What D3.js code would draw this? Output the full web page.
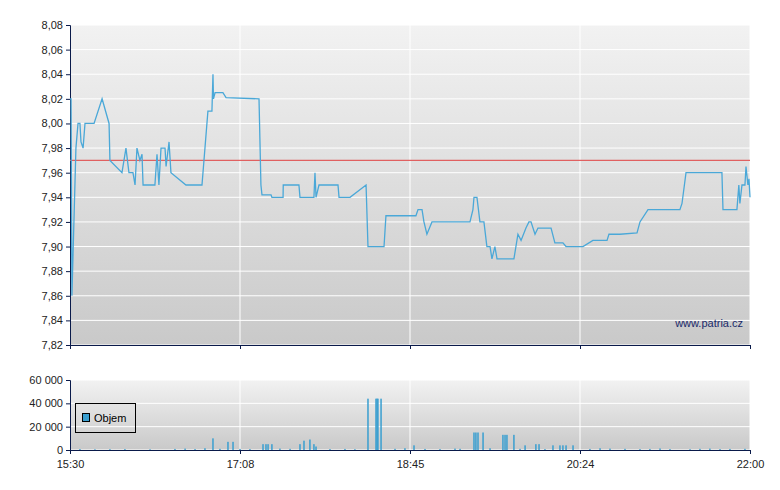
<!DOCTYPE html>
<html><head><meta charset="utf-8">
<script src="https://cdn.jsdelivr.net/npm/d3@7"></script>
<style>body{margin:0;background:#fff}svg{font-family:Arial,"Liberation Sans",sans-serif}</style>
</head><body><svg id="c" width="780" height="490"></svg>
<script>
// minutes after 15:30
const priceTimes=[0,0.6,1.1,3.4,4.6,5.7,6.3,7.5,8.6,13.8,18.4,22.4,22.9,29.8,32.1,33.8,36.1,37.3,38.4,40.1,41.3,41.9,48.7,49.9,51.0,52.2,54.5,55.1,56.8,57.9,66.5,75.7,79.1,81.4,82.0,82.3,83.2,87.7,89.5,108.4,109.5,110.1,115.3,115.8,122.2,122.3,131.3,131.9,139.9,140.5,141.1,142.8,153.7,154.3,160.6,169.8,170.9,180.1,181.2,198.4,199.6,201.9,203.0,204.7,207.6,229.4,231.1,231.7,233.4,235.1,237.4,239.1,240.9,242.0,243.7,244.9,247.2,254.6,256.9,258.7,261.5,263.2,264.4,266.7,268.4,275.9,278.1,282.7,284.5,294.2,299.9,308.0,309.1,315.4,325.2,326.9,331.5,349.8,351.0,353.3,373.9,374.5,382.5,383.6,384.2,385.4,387.1,387.7,388.8,389.4,390];
const priceValues=[8.02,8.02,7.86,7.98,8.00,8.00,7.985,7.98,8.00,8.00,8.02,8.00,7.97,7.96,7.98,7.96,7.96,7.95,7.98,7.97,7.975,7.95,7.95,7.975,7.95,7.98,7.98,7.965,7.985,7.96,7.95,7.95,8.01,8.01,8.04,8.02,8.025,8.025,8.021,8.02,7.95,7.942,7.942,7.94,7.94,7.95,7.95,7.94,7.94,7.96,7.94,7.95,7.95,7.94,7.94,7.95,7.90,7.90,7.925,7.925,7.93,7.93,7.92,7.91,7.92,7.92,7.93,7.94,7.94,7.92,7.92,7.90,7.90,7.89,7.90,7.89,7.89,7.89,7.91,7.905,7.915,7.92,7.92,7.91,7.915,7.915,7.903,7.903,7.90,7.90,7.905,7.905,7.91,7.91,7.911,7.92,7.93,7.93,7.935,7.96,7.96,7.93,7.93,7.95,7.935,7.95,7.95,7.965,7.95,7.955,7.94];
const refValue=7.97;
const volTimes=[82.0,90.6,93.5,110.7,112.4,113.6,115.8,131.9,134.2,137.6,139.9,141.1,170.9,175.5,176.1,176.6,178.4,197.3,231.7,232.8,234.0,236.9,248.3,249.5,250.6,254.6,261.0,267.2,269.0,277.0,281.0,282.7,284.5,288.5,
5.7,14.3,22.9,31.5,45.9,60.2,66,71.7,77.4,86,97.5,103.2,120.4,126.2,149.1,157.7,163.4,186.4,192.1,203.6,212.2,220.8,223.7,240.9,258.1,272.4,298.2,304,309.7,318.3,326.9,332.6,338.4,344.1,355.6,361.3,367,372.8,378.5,387.1];
const volValues=[10000,7000,7000,5000,5000,5000,5000,5000,8000,9000,5000,3000,44000,44000,44000,44000,44000,4000,15000,15000,15000,15000,13000,13000,13000,13000,4000,5000,5000,4000,4000,4000,4000,4000,
800,600,700,800,600,900,1200,800,1500,1000,900,800,1200,1000,800,900,700,1000,1500,900,800,1200,1000,1500,1000,800,900,1500,1200,1000,800,900,1300,800,700,1000,1200,800,900,1000];
const xTickLabels=["15:30","17:08","18:45","20:24","22:00"];
const yTicks=[7.82,7.84,7.86,7.88,7.90,7.92,7.94,7.96,7.98,8.00,8.02,8.04,8.06,8.08];
const vTicks=[0,20000,40000,60000];

const svg=d3.select("#c");
const L=70,R=750,PT=25,PB=345,VT=380,VB=450;
const x=d3.scaleLinear().domain([0,390]).range([L,R]);
const y=d3.scaleLinear().domain([7.82,8.08]).range([PB,PT]);
const yv=d3.scaleLinear().domain([0,60000]).range([VB,VT]);
const defs=svg.append("defs");
const g=defs.append("linearGradient").attr("id","bg").attr("x1",0).attr("x2",0).attr("y1",0).attr("y2",1);
g.append("stop").attr("offset","0").attr("stop-color","#f2f2f2");
g.append("stop").attr("offset","1").attr("stop-color","#c9c9c9");
[[PT,PB],[VT,VB]].forEach(([t,b])=>svg.append("rect").attr("x",L).attr("y",t).attr("width",R-L).attr("height",b-t).attr("fill","url(#bg)"));
const fmt=d=>d.toFixed(2).replace(".",",");
const xt=xTickLabels.map((s,i)=>i*97.5);
// grid
svg.append("g").selectAll("line").data(yTicks).join("line").attr("x1",L).attr("x2",R).attr("y1",d=>y(d)).attr("y2",d=>y(d)).attr("stroke","#fff");
svg.append("g").selectAll("line").data(vTicks).join("line").attr("x1",L).attr("x2",R).attr("y1",d=>yv(d)).attr("y2",d=>yv(d)).attr("stroke","#fff");
[[PT,PB],[VT,VB]].forEach(([t,b])=>svg.append("g").selectAll("line").data(xt.slice(1)).join("line").attr("x1",d=>x(d)).attr("x2",d=>x(d)).attr("y1",t).attr("y2",b).attr("stroke","#fff"));
// axes
const ay=svg.append("g").attr("transform",`translate(${L},0)`).call(d3.axisLeft(y).tickValues(yTicks).tickFormat(fmt).tickSize(4));
const av=svg.append("g").attr("transform",`translate(${L},0)`).call(d3.axisLeft(yv).tickValues(vTicks).tickFormat(d=>d3.format(",")(d).replace(/,/g," ")).tickSize(4));
const ax1=svg.append("g").attr("transform",`translate(0,${PB})`).call(d3.axisBottom(x).tickValues(xt).tickFormat("").tickSize(4));
const ax2=svg.append("g").attr("transform",`translate(0,${VB})`).call(d3.axisBottom(x).tickValues(xt).tickFormat((d,i)=>xTickLabels[i]).tickSize(4));
[ay,av,ax1,ax2].forEach(a=>{a.selectAll("path,line").attr("stroke","#0a1a4a");a.selectAll("text").attr("fill","#222").attr("font-size",11);});
ax2.selectAll("text").attr("dy","1.0em");
// ref line
svg.append("line").attr("x1",L).attr("x2",R).attr("y1",y(refValue)).attr("y2",y(refValue)).attr("stroke","#e06060").attr("stroke-width",1.3);
// price line
const pts=priceTimes.map((t,i)=>[t,priceValues[i]]);
svg.append("path").datum(pts).attr("fill","none").attr("stroke","#4aa8d8").attr("stroke-width",1.3)
 .attr("d",d3.line().x(d=>x(d[0])).y(d=>y(d[1])));
// volume
svg.append("g").selectAll("rect").data(volTimes.map((t,i)=>[t,volValues[i]])).join("rect")
 .attr("x",d=>x(d[0])-0.75).attr("width",1.5).attr("y",d=>yv(d[1])).attr("height",d=>VB-yv(d[1])).attr("fill","#3a9fd0");
// legend
svg.append("rect").attr("x",75.5).attr("y",403.5).attr("width",60).attr("height",29).attr("fill","none").attr("stroke","#000");
svg.append("rect").attr("x",82.5).attr("y",413.5).attr("width",7).attr("height",8).attr("fill","#3a9fd0").attr("stroke","#000");
svg.append("text").attr("x",94).attr("y",422).attr("font-size",11).attr("fill","#000").text("Objem");
svg.append("text").attr("x",743).attr("y",327).attr("text-anchor","end").attr("font-size",11).attr("fill","#1a2a6a").text("www.patria.cz");
</script></body></html>
